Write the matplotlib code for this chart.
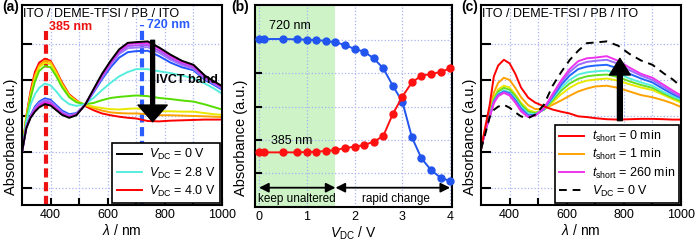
import matplotlib.pyplot as plt
import numpy as np

plt.rcParams['font.family'] = ['Liberation Sans', 'DejaVu Sans']
plt.rcParams['mathtext.fontset'] = 'custom'
plt.rcParams['mathtext.rm'] = 'Liberation Sans'
plt.rcParams['mathtext.it'] = 'Liberation Sans:italic'
plt.rcParams['font.size'] = 9

# wavelength grid (nm) shared by panels a and c
wl = [300, 315, 330, 345, 360, 380, 400, 420, 440, 465, 490, 520, 550,
      580, 610, 640, 670, 700, 740, 780, 820, 860, 900, 940, 970, 1000]

# panel a: spectra under V_DC (0 V ... 4.0 V)
a_black = [1.0, 1.66, 1.95, 2.12, 2.24, 2.33, 2.29, 2.16, 2.03, 1.95, 2.02, 2.30, 2.74,
           3.17, 3.53, 3.85, 4.03, 4.05, 4.07, 3.90, 3.70, 3.53, 3.42, 3.12, 2.97, 2.83]
a_magenta = [1.0, 1.67, 1.97, 2.15, 2.28, 2.37, 2.33, 2.19, 2.05, 1.97, 2.03, 2.30, 2.72,
             3.14, 3.50, 3.82, 4.00, 4.02, 4.03, 3.87, 3.67, 3.50, 3.40, 3.10, 2.95, 2.81]
a_purple = [1.0, 1.68, 1.99, 2.19, 2.32, 2.41, 2.37, 2.22, 2.08, 1.99, 2.05, 2.30, 2.70,
            3.10, 3.46, 3.77, 3.94, 3.96, 3.97, 3.81, 3.61, 3.45, 3.35, 3.06, 2.92, 2.79]
a_lavender = [1.0, 1.70, 2.00, 2.22, 2.36, 2.45, 2.41, 2.26, 2.11, 2.02, 2.06, 2.30, 2.68,
              3.06, 3.42, 3.72, 3.88, 3.90, 3.91, 3.75, 3.56, 3.41, 3.31, 3.03, 2.90, 2.76]
a_blue = [1.0, 1.72, 2.02, 2.26, 2.40, 2.49, 2.45, 2.30, 2.15, 2.05, 2.08, 2.30, 2.65,
          3.02, 3.35, 3.62, 3.77, 3.80, 3.81, 3.66, 3.48, 3.35, 3.27, 3.00, 2.87, 2.73]
a_cyan = [1.0, 1.82, 2.32, 2.60, 2.78, 2.90, 2.85, 2.68, 2.48, 2.33, 2.28, 2.33, 2.50,
          2.72, 2.92, 3.10, 3.22, 3.30, 3.30, 3.24, 3.19, 3.12, 3.05, 2.90, 2.77, 2.62]
a_green = [1.0, 1.90, 2.50, 2.95, 3.25, 3.39, 3.35, 3.10, 2.80, 2.52, 2.38, 2.33, 2.36,
           2.44, 2.50, 2.53, 2.55, 2.57, 2.55, 2.50, 2.47, 2.43, 2.40, 2.32, 2.25, 2.18]
a_yellow = [1.0, 1.95, 2.57, 3.06, 3.35, 3.48, 3.44, 3.18, 2.86, 2.56, 2.41, 2.32, 2.26,
            2.22, 2.19, 2.18, 2.20, 2.21, 2.18, 2.13, 2.13, 2.12, 2.12, 2.08, 2.05, 2.03]
a_orange = [1.0, 1.98, 2.62, 3.12, 3.40, 3.54, 3.50, 3.22, 2.90, 2.58, 2.42, 2.30, 2.22,
            2.15, 2.10, 2.08, 2.07, 2.07, 2.05, 2.02, 2.02, 2.01, 2.00, 1.99, 1.98, 1.97]
a_red = [1.0, 2.00, 2.70, 3.22, 3.48, 3.59, 3.53, 3.25, 2.93, 2.60, 2.44, 2.28, 2.16,
         2.07, 2.02, 1.98, 1.95, 1.93, 1.86, 1.85, 1.87, 1.88, 1.89, 1.90, 1.90, 1.90]

# panel b: absorbance vs V_DC
vdc = [0, 0.1, 0.5, 0.8, 1.0, 1.2, 1.4, 1.6, 1.8, 2.0, 2.2, 2.4, 2.6, 2.8,
       3.0, 3.2, 3.4, 3.6, 3.8, 4.0]
abs720 = [5.03, 5.03, 5.03, 5.02, 5.01, 5.00, 4.97, 4.93, 4.85, 4.73, 4.65, 4.45, 4.15,
          3.63, 3.15, 2.08, 1.45, 1.10, 0.87, 0.77]
abs385 = [1.63, 1.63, 1.63, 1.63, 1.64, 1.65, 1.67, 1.70, 1.76, 1.80, 1.85, 1.95, 2.12,
          2.78, 3.30, 3.73, 3.93, 3.98, 4.04, 4.15]

# panel c: recovery after short circuit
c_red = [1.08, 1.70, 2.29, 3.10, 3.40, 3.56, 3.46, 3.17, 2.79, 2.51, 2.37, 2.27, 2.18,
         2.12, 2.07, 1.99, 1.97, 1.94, 1.91, 1.90, 1.91, 1.92, 1.92, 1.91, 1.90, 1.90]
c_orange = [1.08, 1.65, 2.10, 2.65, 2.92, 3.06, 3.00, 2.78, 2.52, 2.30, 2.19, 2.20, 2.31,
            2.43, 2.56, 2.68, 2.76, 2.82, 2.84, 2.78, 2.68, 2.58, 2.52, 2.43, 2.35, 2.25]
c_yellow = [1.08, 1.62, 2.02, 2.50, 2.74, 2.84, 2.79, 2.60, 2.37, 2.17, 2.10, 2.17, 2.38,
            2.60, 2.78, 2.91, 2.98, 3.01, 3.04, 2.98, 2.88, 2.79, 2.72, 2.58, 2.47, 2.37]
c_green = [1.08, 1.61, 2.00, 2.46, 2.68, 2.78, 2.73, 2.55, 2.32, 2.12, 2.08, 2.17, 2.43,
           2.70, 2.90, 3.03, 3.10, 3.13, 3.15, 3.08, 2.96, 2.86, 2.78, 2.62, 2.51, 2.42]
c_cyan = [1.08, 1.60, 1.99, 2.42, 2.62, 2.71, 2.66, 2.48, 2.26, 2.07, 2.05, 2.18, 2.48,
          2.78, 3.00, 3.15, 3.21, 3.24, 3.26, 3.18, 3.04, 2.93, 2.84, 2.66, 2.55, 2.46]
c_blue = [1.08, 1.60, 1.98, 2.40, 2.59, 2.68, 2.63, 2.44, 2.21, 2.02, 2.03, 2.19, 2.52,
          2.86, 3.12, 3.30, 3.37, 3.40, 3.42, 3.32, 3.17, 3.04, 2.93, 2.74, 2.61, 2.50]
c_violet = [1.08, 1.59, 1.97, 2.38, 2.57, 2.66, 2.60, 2.40, 2.17, 1.99, 2.02, 2.20, 2.56,
            2.93, 3.22, 3.42, 3.50, 3.53, 3.56, 3.45, 3.27, 3.12, 3.00, 2.80, 2.66, 2.53]
c_magenta = [1.08, 1.58, 1.96, 2.36, 2.55, 2.64, 2.57, 2.37, 2.13, 1.97, 2.01, 2.21, 2.60,
             2.98, 3.30, 3.52, 3.60, 3.62, 3.66, 3.53, 3.34, 3.17, 3.06, 2.86, 2.71, 2.57]
c_dash = [1.08, 1.50, 1.96, 2.17, 2.26, 2.31, 2.23, 2.10, 1.99, 1.94, 2.04, 2.31, 2.83,
          3.21, 3.55, 3.81, 4.02, 4.04, 4.07, 3.95, 3.72, 3.54, 3.42, 3.18, 3.02, 2.82]

grid_kw = dict(color='#a9b3f2', linestyle=':', linewidth=0.9)
leg_kw = dict(loc='lower right', fontsize=9, frameon=True, fancybox=False,
              edgecolor='k', framealpha=1, borderaxespad=0.15, handlelength=2.0,
              handletextpad=0.6, labelspacing=0.25, borderpad=0.35)

fig = plt.figure(figsize=(6.95, 2.45), dpi=100)
ax1 = fig.add_axes([0.0317, 0.1633, 0.2878, 0.8163])
ax2 = fig.add_axes([0.3669, 0.1563, 0.2835, 0.8233])
ax3 = fig.add_axes([0.6921, 0.1633, 0.2878, 0.8163])


def spectra_axes(ax):
    ax.set_xlim(300, 1000)
    ax.set_ylim(-0.47, 5.08)
    ax.set_xticks([400, 600, 800, 1000])
    ax.set_xticks([500, 700, 900], minor=True)
    ax.set_yticks([0, 1, 2, 3, 4])
    ax.set_yticklabels([])
    ax.tick_params(which='both', direction='in', length=7, width=1.5, labelsize=9, pad=3)
    ax.tick_params(axis='x', which='both', length=5)
    ax.grid(True, which='both', **grid_kw)
    ax.set_axisbelow(True)
    for s in ax.spines.values():
        s.set_linewidth(1.5)
    ax.set_xlabel(r'$\lambda$ / nm', fontsize=10, labelpad=1)
    ax.set_ylabel('Absorbance (a.u.)', fontsize=10.5)
    ax.yaxis.set_label_coords(-0.02, 0.34)


# ---- (a)
spectra_axes(ax1)
series_a = [(a_red, '#ff0000'), (a_orange, '#ffa200'), (a_yellow, '#e8e800'),
            (a_green, '#55dd00'), (a_cyan, '#55eedd'), (a_blue, '#2255ff'),
            (a_lavender, '#9a7cff'), (a_purple, '#b050f0'), (a_magenta, '#ee22ee'),
            (a_black, '#000000')]
lines_a = {}
for y, c in series_a:
    lines_a[c], = ax1.plot(wl, y, color=c, lw=1.4)
ax1.axvline(385, ymax=0.87, color='#ee1111', lw=3, dashes=(2.2, 1.1), zorder=1)
ax1.axvline(720, ymax=0.90, color='#2a5cff', lw=3, dashes=(2.2, 1.1), zorder=1)
ax1.text(304, 4.75, 'ITO / DEME-TFSI / PB / ITO', fontsize=9)
ax1.text(395, 4.38, '385 nm', color='#ee1111', fontsize=9, fontweight='bold')
ax1.text(738, 4.45, '720 nm', color='#2a5cff', fontsize=9, fontweight='bold')
ax1.annotate('', xy=(757, 1.84), xytext=(757, 4.1),
             arrowprops=dict(facecolor='k', edgecolor='k', width=2.8, headwidth=21,
                             headlength=12))
ax1.text(770, 2.92, 'IVCT band', fontsize=9, fontweight='bold')
ax1.legend([lines_a['#000000'], lines_a['#55eedd'], lines_a['#ff0000']],
           [r'$V_{\rm DC}$ = 0 V', r'$V_{\rm DC}$ = 2.8 V', r'$V_{\rm DC}$ = 4.0 V'],
           **leg_kw).get_frame().set_linewidth(1.2)

# ---- (b)
ax2.axvspan(-0.2, 1.6, color='#cdf3c6', zorder=0, lw=0)
ax2.plot(vdc, abs720, '-o', color='#2255ee', lw=1.4, ms=5, clip_on=False, zorder=3)
ax2.plot(vdc, abs385, '-o', color='#ff1111', lw=1.4, ms=5, clip_on=False, zorder=3)
ax2.set_xlim(-0.085, 4.04)
ax2.set_ylim(0, 6.05)
ax2.set_xticks([0, 1, 2, 3, 4])
ax2.set_yticks([1, 2, 3, 4, 5])
ax2.set_yticklabels([])
ax2.tick_params(direction='in', length=5, width=1.5, labelsize=9, pad=3)
ax2.tick_params(axis='x', length=0)
ax2.grid(True, **grid_kw)
ax2.set_axisbelow(True)
for s in ax2.spines.values():
    s.set_linewidth(1.5)
ax2.set_xlabel(r'$V_{\rm DC}$ / V', fontsize=10, labelpad=1)
ax2.set_ylabel('Absorbance (a.u.)', fontsize=10.5)
ax2.yaxis.set_label_coords(-0.035, 0.34)
ax2.text(0.65, 5.42, '720 nm', fontsize=9, ha='center', va='center')
ax2.text(0.68, 1.97, '385 nm', fontsize=9, ha='center', va='center')
arr = dict(arrowstyle='<|-|>', color='k', lw=1.3, mutation_scale=14, shrinkA=0, shrinkB=0)
ax2.annotate('', xy=(0.0, 0.57), xytext=(1.6, 0.57), arrowprops=arr)
ax2.annotate('', xy=(1.6, 0.57), xytext=(4.0, 0.57), arrowprops=arr)
ax2.text(0.8, 0.23, 'keep unaltered', fontsize=8.5, ha='center', va='center')
ax2.text(2.87, 0.23, 'rapid change', fontsize=8.5, ha='center', va='center')

# ---- (c)
spectra_axes(ax3)
series_c = [(c_orange, '#ffa200'), (c_yellow, '#e8e800'), (c_green, '#66dd22'),
            (c_cyan, '#55eedd'), (c_blue, '#2266ff'), (c_violet, '#9a6cff'),
            (c_magenta, '#ee33ee'), (c_red, '#ff0000')]
lines_c = {}
for y, c in series_c:
    lines_c[c], = ax3.plot(wl, y, color=c, lw=1.4)
ld, = ax3.plot(wl, c_dash, color='k', lw=1.4, dashes=(4, 3))
ax3.text(304, 4.75, 'ITO / DEME-TFSI / PB / ITO', fontsize=9)
ax3.annotate('', xy=(786, 3.6), xytext=(786, 1.87),
             arrowprops=dict(facecolor='k', edgecolor='k', width=3.5, headwidth=15,
                             headlength=12))
ax3.legend([lines_c['#ff0000'], lines_c['#ffa200'], lines_c['#ee33ee'], ld],
           [r'$t_{\rm short}$ = 0 min', r'$t_{\rm short}$ = 1 min',
            r'$t_{\rm short}$ = 260 min', r'$V_{\rm DC}$ = 0 V'],
           **leg_kw).get_frame().set_linewidth(1.2)

fig.text(0.003, 0.955, '(a)', fontsize=10, fontweight='bold')
fig.text(0.333, 0.955, '(b)', fontsize=10, fontweight='bold')
fig.text(0.663, 0.955, '(c)', fontsize=10, fontweight='bold')

fig.savefig('out.png', dpi=100)
